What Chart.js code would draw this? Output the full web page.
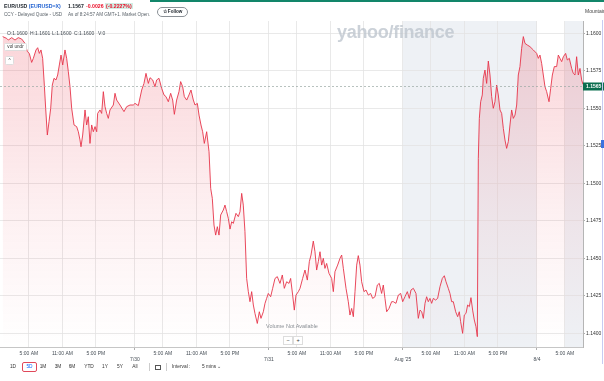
<!DOCTYPE html>
<html><head><meta charset="utf-8">
<script src="https://cdn.jsdelivr.net/npm/chart.js@4.4.1/dist/chart.umd.min.js"></script>
<style>
html,body{margin:0;padding:0;background:#fff;width:604px;height:381px;overflow:hidden;font-family:"Liberation Sans",Arial,sans-serif;}
canvas{position:absolute;left:0;top:0;}
.t{position:absolute;white-space:nowrap;line-height:1;}
.c{transform:translateX(-50%);}
</style></head><body>
<canvas id="c" width="604" height="381"></canvas>

<div style="position:absolute;left:150px;top:0;width:454px;height:1.5px;background:#12866a"></div>
<div class="t" style="left:4px;top:4px;font-size:5.2px;font-weight:bold;color:#232a31">EUR/USD <span style="color:#1d5fd0">(EURUSD=X)</span></div>
<div class="t" style="left:68px;top:4px;font-size:5.2px;font-weight:bold;color:#232a31">1.1567</div>
<div class="t" style="left:86px;top:4px;font-size:5.2px;font-weight:bold;color:#eb0f29">-0.0026</div>
<div class="t" style="left:105px;top:3px;font-size:5.2px;font-weight:bold;color:#eb0f29;background:rgba(20,170,120,0.2);padding:0.5px 1px">(-0.2227%)</div>
<div class="t" style="left:4px;top:13px;font-size:4.6px;color:#5b636a">CCY - Delayed Quote - USD</div>
<div class="t" style="left:68px;top:13px;font-size:4.6px;color:#5b636a">As of 8:24:57 AM GMT+1. Market Open.</div>
<div class="t" style="left:157px;top:7px;width:29px;height:8px;border:1px solid #8a9096;border-radius:5px;font-size:4.6px;font-weight:bold;color:#232a31;text-align:center;line-height:8px">☆ Follow</div>
<div class="t" style="left:585px;top:9px;font-size:5px;color:#444">Mountain</div>

<div class="t" style="left:337px;top:23px;font-size:18px;font-weight:bold;color:rgba(185,193,203,0.75);letter-spacing:-0.3px">yahoo/finance</div>

<div class="t" style="left:7px;top:31px;font-size:5px;color:#464e56">O:1.1600</div>
<div class="t" style="left:30px;top:31px;font-size:5px;color:#464e56">H:1.1601</div>
<div class="t" style="left:52px;top:31px;font-size:5px;color:#464e56">L:1.1600</div>
<div class="t" style="left:74px;top:31px;font-size:5px;color:#464e56">C:1.1600</div>
<div class="t" style="left:98px;top:31px;font-size:5px;color:#464e56">V:0</div>
<div class="t" style="left:4px;top:43px;width:21px;height:6px;background:#fff;border:0.5px solid #ddd;border-radius:1.5px;font-size:4.6px;color:#333;line-height:6px;text-align:center">vol undr</div>
<div class="t" style="left:5px;top:56px;width:7px;height:7px;background:#fff;border:0.5px solid #ddd;border-radius:1.5px;font-size:4.6px;color:#333;line-height:8px;text-align:center">^</div>

<div class="t c" style="left:292px;top:324px;font-size:5.5px;color:#8a8f95">Volume Not Available</div>
<div class="t" style="left:283px;top:336px;width:8px;height:7px;background:#fff;border:0.5px solid #ddd;font-size:5.5px;color:#333;line-height:7px;text-align:center">−</div>
<div class="t" style="left:293px;top:336px;width:8px;height:7px;background:#fff;border:0.5px solid #ddd;font-size:5.5px;color:#333;line-height:7px;text-align:center">+</div>

<div style="position:absolute;left:602px;top:20px;width:1px;height:344px;background:#c7cbf2"></div>
<div style="position:absolute;left:601px;top:140px;width:3px;height:8px;background:#3b73e0"></div>

<div class="t c" style="left:13px;top:365px;font-size:4.8px;color:#333">1D</div>
<div class="t" style="left:22px;top:362px;width:13px;height:8px;border:1px solid #e0485a;border-radius:2px;font-size:4.8px;color:#0f69ff;text-align:center;line-height:8px">5D</div>
<div class="t c" style="left:43px;top:365px;font-size:4.8px;color:#333">1M</div>
<div class="t c" style="left:58px;top:365px;font-size:4.8px;color:#333">3M</div>
<div class="t c" style="left:72px;top:365px;font-size:4.8px;color:#333">6M</div>
<div class="t c" style="left:89px;top:365px;font-size:4.8px;color:#333">YTD</div>
<div class="t c" style="left:105px;top:365px;font-size:4.8px;color:#333">1Y</div>
<div class="t c" style="left:120px;top:365px;font-size:4.8px;color:#333">5Y</div>
<div class="t c" style="left:135px;top:365px;font-size:4.8px;color:#333">All</div>
<div style="position:absolute;left:149px;top:363px;width:0.6px;height:8px;background:#ccc"></div>
<div style="position:absolute;left:155px;top:364.5px;width:3.5px;height:3.5px;border:0.6px solid #555;border-top:1.2px solid #555"></div>
<div style="position:absolute;left:166px;top:363px;width:0.6px;height:8px;background:#ccc"></div>
<div class="t" style="left:172px;top:365px;font-size:4.8px;color:#333">Interval :</div>
<div class="t" style="left:202px;top:365px;font-size:4.8px;color:#333">5 mins ⌄</div>

<script>
const hours = [0.30,1.02,1.31,1.91,2.51,3.10,3.70,4.30,4.72,5.07,5.49,5.79,6.27,6.57,6.87,7.16,7.46,7.76,8.00,8.30,8.60,8.90,9.19,9.49,9.85,10.15,10.45,10.75,11.05,11.46,11.76,12.06,12.36,12.66,13.08,13.55,13.85,14.15,14.33,14.63,15.05,15.34,15.64,15.94,16.24,16.54,16.84,17.14,17.31,17.73,18.03,18.33,18.63,18.93,19.22,19.52,20.12,20.42,20.72,21.31,22.03,22.51,23.11,23.70,24.00,24.60,25.20,25.61,25.97,26.39,26.69,27.17,27.58,27.88,28.30,28.78,29.20,29.55,29.97,30.39,30.75,31.05,31.46,31.88,32.18,32.54,32.84,33.26,33.67,34.03,34.45,34.75,35.17,35.47,35.82,36.12,36.42,36.84,37.26,37.56,37.85,38.15,38.45,38.75,39.05,39.35,39.82,40.12,40.42,40.72,41.02,41.32,41.61,42.09,42.51,42.81,43.11,43.40,43.70,44.00,44.30,44.60,44.90,45.20,45.49,45.91,46.27,46.57,46.99,47.29,47.58,47.88,48.30,48.66,49.08,49.49,49.97,50.39,50.75,51.17,51.59,51.88,52.24,52.54,52.84,53.26,53.56,54.03,54.45,54.87,55.23,55.53,55.94,56.24,56.54,56.84,57.14,57.44,57.73,58.03,58.33,58.75,59.23,59.53,59.82,60.30,60.72,61.02,61.32,61.80,62.21,62.51,62.81,63.11,63.41,63.71,64.00,64.30,64.60,65.02,65.38,65.79,66.21,66.57,66.99,67.41,67.76,68.18,68.48,68.78,69.08,69.50,69.97,70.27,70.75,71.17,71.59,71.95,72.36,72.78,73.14,73.44,73.86,74.33,74.75,75.05,75.35,75.65,75.95,76.24,76.54,76.84,77.14,77.44,77.85,78.21,78.63,79.05,79.41,79.71,80.12,80.42,80.72,81.02,81.44,81.80,82.09,82.33,82.69,82.99,83.29,83.59,83.89,84.18,84.48,84.78,85.08,85.32,85.50,85.68,85.92,86.21,86.39,86.69,86.99,87.29,87.59,87.89,88.18,88.48,88.78,89.08,89.38,89.68,89.98,90.27,90.57,90.87,91.17,91.47,91.77,92.07,92.37,92.66,92.96,93.26,93.56,93.86,94.27,94.75,95.35,95.95,96.25,96.54,96.84,97.14,97.44,97.74,98.16,98.46,98.76,99.11,99.53,99.83,100.13,100.43,100.73,101.14,101.44,101.80,102.22,102.51,102.81,103.11,103.41,103.71,104.01,104.24];
const prices = [1.15978,1.15966,1.15955,1.15971,1.15955,1.15971,1.15962,1.15933,1.15878,1.15866,1.15806,1.15833,1.15889,1.15904,1.15866,1.15889,1.15833,1.15655,1.15500,1.15322,1.15411,1.15500,1.15655,1.15700,1.15689,1.15722,1.15789,1.15855,1.15789,1.15889,1.15833,1.15744,1.15644,1.15500,1.15389,1.15378,1.15344,1.15289,1.15244,1.15322,1.15489,1.15389,1.15444,1.15266,1.15389,1.15344,1.15378,1.15344,1.15466,1.15489,1.15466,1.15611,1.15511,1.15466,1.15433,1.15489,1.15522,1.15600,1.15555,1.15522,1.15478,1.15511,1.15522,1.15522,1.15533,1.15518,1.15622,1.15666,1.15733,1.15666,1.15704,1.15689,1.15644,1.15689,1.15700,1.15633,1.15589,1.15578,1.15544,1.15600,1.15555,1.15460,1.15555,1.15611,1.15678,1.15644,1.15578,1.15555,1.15589,1.15622,1.15555,1.15522,1.15533,1.15455,1.15389,1.15344,1.15266,1.15344,1.15211,1.14966,1.14900,1.14722,1.14655,1.14711,1.14655,1.14789,1.14822,1.14855,1.14811,1.14766,1.14695,1.14744,1.14733,1.14800,1.14778,1.14811,1.14933,1.14855,1.14678,1.14366,1.14278,1.14211,1.14278,1.14189,1.14133,1.14066,1.14144,1.14100,1.14144,1.14200,1.14233,1.14266,1.14244,1.14300,1.14366,1.14378,1.14333,1.14389,1.14300,1.14344,1.14333,1.14366,1.14255,1.14155,1.14255,1.14278,1.14300,1.14366,1.14422,1.14355,1.14478,1.14522,1.14615,1.14544,1.14422,1.14478,1.14544,1.14455,1.14500,1.14433,1.14466,1.14400,1.14366,1.14278,1.14411,1.14455,1.14500,1.14522,1.14433,1.14300,1.14211,1.14122,1.14166,1.14111,1.14278,1.14455,1.14518,1.14455,1.14344,1.14278,1.14289,1.14255,1.14266,1.14233,1.14244,1.14322,1.14333,1.14266,1.14322,1.14233,1.14144,1.14166,1.14211,1.14211,1.14200,1.14255,1.14266,1.14211,1.14244,1.14278,1.14233,1.14289,1.14300,1.14266,1.14100,1.14155,1.14144,1.14100,1.14200,1.14244,1.14211,1.14233,1.14200,1.14233,1.14222,1.14233,1.14311,1.14366,1.14384,1.14344,1.14300,1.14266,1.14211,1.14211,1.14144,1.14111,1.14144,1.14078,1.14000,1.14122,1.14133,1.14189,1.14178,1.14238,1.14155,1.14089,1.14044,1.13978,1.15166,1.15433,1.15544,1.15589,1.15700,1.15755,1.15666,1.15815,1.15722,1.15578,1.15500,1.15544,1.15655,1.15589,1.15489,1.15466,1.15366,1.15289,1.15233,1.15278,1.15389,1.15489,1.15433,1.15455,1.15522,1.15722,1.15778,1.15900,1.15978,1.15933,1.15922,1.15911,1.15889,1.15866,1.15833,1.15855,1.15800,1.15722,1.15644,1.15611,1.15544,1.15633,1.15722,1.15778,1.15778,1.15855,1.15833,1.15811,1.15844,1.15866,1.15822,1.15833,1.15766,1.15733,1.15722,1.15844,1.15722,1.15766,1.15689,1.15660];

const tickHours = [5,11,17,24,29,35,41,48,53,59,65,72,77,83,89,96,101];
const tickLabels = ['5:00 AM','11:00 AM','5:00 PM','7/30','5:00 AM','11:00 AM','5:00 PM','7/31','5:00 AM','11:00 AM','5:00 PM',"Aug '25",'5:00 AM','11:00 AM','5:00 PM','8/4','5:00 AM'];
const dateTicks = [24,48,72,96];
const priceTicks = [1.1400,1.1425,1.1450,1.1475,1.1500,1.1525,1.1550,1.1575,1.1600];
const shadedRanges = [[72,96],[101,104.25]];
const lastPrice = 1.1565;

const decor = {
  id:'decor',
  beforeDraw(chart){
    const {ctx, chartArea:a, scales:{x}} = chart;
    ctx.save(); ctx.fillStyle='#eef1f5';
    shadedRanges.forEach(([s,e])=>{
      const x0=x.getPixelForValue(s), x1=Math.min(x.getPixelForValue(e), a.right);
      ctx.fillRect(x0,a.top,x1-x0,a.bottom-a.top);
    });
    ctx.restore();
  },
  afterDatasetsDraw(chart){
    const {ctx, chartArea:a, scales:{y}} = chart;
    const py = Math.round(y.getPixelForValue(lastPrice))+0.5;
    ctx.save();
    ctx.strokeStyle='#9aa9a4'; ctx.setLineDash([2,2]); ctx.lineWidth=0.7;
    ctx.beginPath(); ctx.moveTo(a.left,py); ctx.lineTo(a.right,py); ctx.stroke();
    ctx.setLineDash([]);
    ctx.fillStyle='#0b6e4f'; ctx.fillRect(a.right, py-4, 21, 8);
    ctx.fillStyle='#fff'; ctx.font='bold 5px "Liberation Sans"'; ctx.textBaseline='middle';
    ctx.fillText(lastPrice.toFixed(4), a.right+3, py);
    ctx.restore();
  }
};

new Chart(document.getElementById('c'), {
  type:'line',
  data:{ datasets:[{
    data: hours.map((h,i)=>({x:h, y:prices[i]})),
    borderColor:'#e6344a', borderWidth:0.9, pointRadius:0, tension:0,
    fill:'start',
    backgroundColor:(c)=>{
      const a=c.chart.chartArea; if(!a) return 'rgba(0,0,0,0)';
      const g=c.chart.ctx.createLinearGradient(0,a.top,0,a.bottom);
      g.addColorStop(0,'rgba(232,55,74,0.22)');
      g.addColorStop(0.6,'rgba(232,55,74,0.07)');
      g.addColorStop(1,'rgba(232,55,74,0)');
      return g;
    }
  }]},
  options:{
    responsive:false, animation:false, devicePixelRatio:1,
    layout:{padding:{top:21,left:0,right:0,bottom:14}},
    plugins:{legend:{display:false}, tooltip:{enabled:false}},
    scales:{
      x:{
        type:'linear', min:-0.18, max:104.25,
        afterBuildTicks:s=>{ s.ticks = tickHours.map(v=>({value:v})); },
        afterFit:s=>{ s.height = 20; },
        ticks:{autoSkip:false, maxRotation:0, font:{size:5, family:'"Liberation Sans"'}, color:'#464e56', padding:0.5,
          callback:(v,i)=> dateTicks.includes(tickHours[i]) ? ['', tickLabels[i]] : tickLabels[i]},
        grid:{color:'#e3e3e3', lineWidth:0.8, tickLength:3,
          tickColor:c=> (c.tick && dateTicks.includes(c.tick.value)) ? '#999' : 'rgba(0,0,0,0)'},
        border:{display:true, color:'#c6c6c6', width:1}
      },
      y:{
        position:'right', min:1.13909, max:1.16082,
        afterBuildTicks:s=>{ s.ticks = priceTicks.map(v=>({value:v})); },
        afterFit:s=>{ s.width = 21; },
        ticks:{font:{size:5, family:'"Liberation Sans"'}, color:'#333', padding:1, callback:v=>Number(v).toFixed(4)},
        grid:{color:'#e3e3e3', lineWidth:0.8, tickLength:2, tickColor:'#9a9a9a'},
        border:{display:true, color:'#b5b5b5', width:1}
      }
    }
  },
  plugins:[decor]
});
</script>
</body></html>
